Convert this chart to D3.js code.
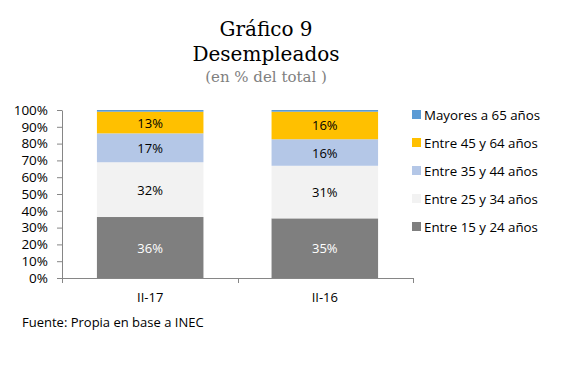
<!DOCTYPE html>
<html><head><meta charset="utf-8">
<script src="https://cdn.jsdelivr.net/npm/d3@7"></script>
<style>body{margin:0;background:#fff}</style>
</head><body>
<svg id="c" width="572" height="369"></svg>
<script>
const categories = ["II-17", "II-16"];
const seriesNames = ["Entre 15 y 24 años", "Entre 25 y 34 años", "Entre 35 y 44 años", "Entre 45 y 64 años", "Mayores a 65 años"];
const v15_24 = [36.3, 35.5];
const v25_34 = [32.6, 31.3];
const v35_44 = [17.2, 15.8];
const v45_64 = [12.9, 16.4];
const v65 = [1.0, 1.0];
const segLabels = [["36%","35%"],["32%","31%"],["17%","16%"],["13%","16%"],[null,null]];
const yTicks = [0,10,20,30,40,50,60,70,80,90,100];
const colors = ["#7f7f7f", "#f2f2f2", "#b4c7e7", "#ffc000", "#5b9bd5"];
const labelColors = ["#ffffff", "#000000", "#000000", "#000000", "#000000"];

const seriesVals = [v15_24, v25_34, v35_44, v45_64, v65];
const svg = d3.select("#c");
const font = "'Open Sans', sans-serif";
const serif = "Georgia, 'DejaVu Serif', serif";

const x = d3.scaleBand().domain(categories).range([62, 413]).paddingInner(0.39).paddingOuter(0.2);
const y = d3.scaleLinear().domain([0, 100]).range([278, 110]);

// titles
svg.append("text").attr("x", 266).attr("y", 36).attr("text-anchor", "middle")
  .attr("font-family", serif).attr("font-size", 20).attr("fill", "#000").text("Gráfico 9");
svg.append("text").attr("x", 266).attr("y", 61).attr("text-anchor", "middle")
  .attr("font-family", serif).attr("font-size", 20).attr("fill", "#000").text("Desempleados");
svg.append("text").attr("x", 266).attr("y", 82).attr("text-anchor", "middle")
  .attr("font-family", serif).attr("font-size", 15).attr("fill", "#808080").text("(en % del total )");

// stacks
const rows = categories.map((c, i) => {
  const o = {cat: c};
  seriesNames.forEach((s, j) => o[s] = seriesVals[j][i]);
  return o;
});
const stack = d3.stack().keys(seriesNames)(rows);
stack.forEach((layer, j) => {
  const g = svg.append("g");
  g.selectAll("rect").data(layer).join("rect")
    .attr("x", d => x(d.data.cat)).attr("width", x.bandwidth())
    .attr("y", d => y(d[1])).attr("height", d => y(d[0]) - y(d[1]))
    .attr("fill", colors[j]);
  g.selectAll("text").data(layer).join("text")
    .attr("x", d => x(d.data.cat) + x.bandwidth() / 2)
    .attr("y", d => (y(d[0]) + y(d[1])) / 2 + 5)
    .attr("text-anchor", "middle").attr("font-family", font).attr("font-size", 13)
    .attr("fill", labelColors[j])
    .text((d, i) => segLabels[j][i]);
});

// y axis
const yAxis = svg.append("g").attr("transform", "translate(62,0)")
  .call(d3.axisLeft(y).tickValues(yTicks).tickFormat(d => d + "%").tickSize(5).tickSizeOuter(0));
yAxis.select(".domain").attr("stroke", "#868686");
yAxis.selectAll(".tick line").attr("stroke", "#868686");
yAxis.selectAll(".tick text").attr("font-family", font).attr("font-size", 13.5).attr("fill", "#000").attr("x", -14);

// x axis
const xg = svg.append("g").attr("transform", "translate(0,278)");
xg.append("line").attr("x1", 62).attr("x2", 413).attr("y1", 0.5).attr("y2", 0.5).attr("stroke", "#868686");
const bounds = [62, (x(categories[0]) + x.bandwidth() + x(categories[1])) / 2, 413];
xg.selectAll("line.t").data(bounds).join("line").attr("class", "t")
  .attr("x1", d => Math.round(d) + 0.5).attr("x2", d => Math.round(d) + 0.5).attr("y1", 0).attr("y2", 5).attr("stroke", "#868686");
xg.selectAll("text").data(categories).join("text")
  .attr("x", d => x(d) + x.bandwidth() / 2).attr("y", 24).attr("text-anchor", "middle")
  .attr("font-family", font).attr("font-size", 13).attr("fill", "#000").text(d => d);

// legend
const legendOrder = seriesNames.slice().reverse();
const lg = svg.append("g");
legendOrder.forEach((s, i) => {
  const yy = 115 + i * 28;
  lg.append("rect").attr("x", 412).attr("y", yy - 5).attr("width", 9).attr("height", 9)
    .attr("fill", colors[seriesNames.indexOf(s)]);
  lg.append("text").attr("x", 424).attr("y", yy + 4.5).attr("font-family", font).attr("font-size", 13.3)
    .attr("fill", "#000").text(s);
});

// footer
svg.append("text").attr("x", 22).attr("y", 327).attr("font-family", font).attr("font-size", 13)
  .attr("fill", "#000").text("Fuente: Propia en base a INEC");
</script>
</body></html>
